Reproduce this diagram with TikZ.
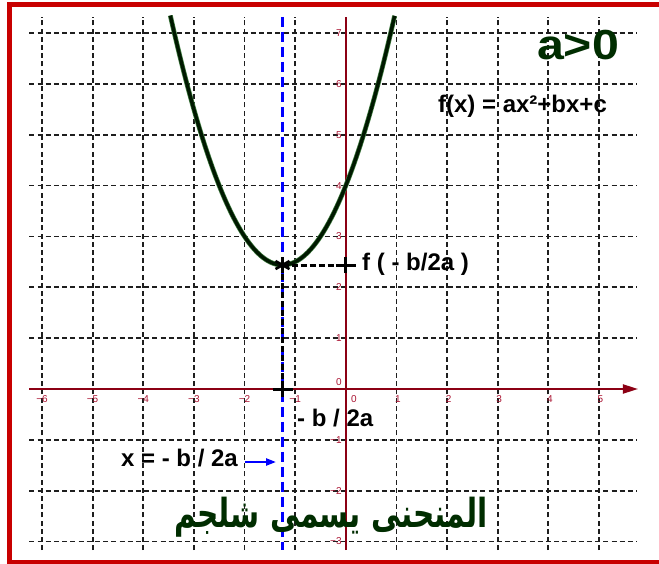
\documentclass[tikz,border=0pt]{standalone}
\usepackage{fontspec}
\setmainfont{Liberation Sans}
\newfontfamily\arabicfont[Script=Arabic]{DejaVu Sans}
\TeXXeTstate=1
\usetikzlibrary{arrows.meta}
\definecolor{axisred}{RGB}{140,0,20}
\definecolor{ticklab}{RGB}{170,20,50}
\definecolor{framered}{RGB}{200,0,0}
\definecolor{curvedark}{RGB}{0,25,0}
\definecolor{curvehalo}{RGB}{60,120,60}
\definecolor{titlegreen}{RGB}{0,45,0}
\definecolor{gridgray}{RGB}{30,30,30}
\tikzset{
  gridline/.style={draw=gridgray, line width=1.8pt, dash pattern=on 5pt off 3.2pt},
  axisline/.style={draw=axisred, line width=1.9pt},
  ticktext/.style={text=ticklab, font=\fontsize{10}{10}\selectfont, inner sep=0pt},
  bluedash/.style={draw=blue, line width=3.8pt, dash pattern=on 10pt off 5pt},
  blackdash/.style={draw=black, line width=3pt, dash pattern=on 6pt off 3pt},
  markstroke/.style={draw=black, line width=3pt},
  label24/.style={font=\fontsize{24}{24}\selectfont\bfseries, text=black, inner sep=0pt},
}
\begin{document}
\begin{tikzpicture}[x=1pt,y=-1pt]
\useasboundingbox (0,0) rectangle (659,564);
\fill[white] (0,0) rectangle (659,564);
\begin{scope}[shift={(345.8,389)},x=50.64pt,y=50.85pt]
  % grid
  \foreach \i in {-6,...,-1,1,2,...,5} \draw[gridline] (\i,-3.17) -- (\i,7.32);
  \foreach \j in {-3,-2,-1,1,2,...,7} \draw[gridline] (-6.25,\j) -- (5.74,\j);
  % axes
  \draw[axisline,-{Triangle[length=15pt,width=9pt]}] (-6.25,0) -- (5.77,0);
  \draw[axisline] (0,-3.17) -- (0,7.32);
  % tick labels
  \foreach \i/\t in {-6/−6,-5/−5,-4/−4,-3/−3,-2/−2,-1/−1}
    \node[ticktext, anchor=north] (tx\i) at ([yshift=-6pt]\i,0) {\t};
  \foreach \i in {1,...,5}
    \node[ticktext, anchor=north] (tx\i) at ([yshift=-6pt,xshift=1.5pt]\i,0) {\i};
  \node[ticktext, anchor=north] (tx0) at ([yshift=-6pt,xshift=8pt]0,0) {0};
  \foreach \j in {1,...,7}
    \node[ticktext, anchor=east] (ty\j) at ([xshift=-4pt]0,\j) {\j};
  \foreach \j/\t in {-1/−1,-2/−2,-3/−3}
    \node[ticktext, anchor=east] (ty\j) at ([xshift=-4pt]0,\j) {\t};
  \node[ticktext, anchor=east] (ty0) at ([xshift=-4pt,yshift=7pt]0,0) {0};
  % axis of symmetry
  \coordinate (btop) at (-1.25,7.32);
  \coordinate (bbot) at (-1.25,-3.17);
  \draw[bluedash] (btop) -- (bbot);
  % parabola
  \draw[curvehalo, line width=4.8pt] plot[domain=-3.465:0.965, samples=120] (\x,{\x*\x+2.5*\x+4});
  \draw[curvedark, line width=3.4pt] plot[domain=-3.465:0.965, samples=120] (\x,{\x*\x+2.5*\x+4});
  % vertex and projections
  \coordinate (V) at (-1.25,2.4375);
  \coordinate (Y) at (0,2.4375);
  \coordinate (X) at (-1.25,0);
  \draw[blackdash] (V) -- (Y);
  \draw[blackdash] (V) -- (X);
\end{scope}
% markers
\draw[markstroke] ([xshift=-10pt]Y) -- ([xshift=10pt]Y);
\draw[markstroke] ([yshift=-8pt]Y) -- ([yshift=8pt]Y);
\draw[markstroke] ([xshift=-10pt]X) -- ([xshift=10pt]X);
\draw[markstroke] ([yshift=-8pt]X) -- ([yshift=8pt]X);
\draw[markstroke, line width=2.6pt] ([yshift=-8pt]V) -- ([yshift=8pt]V);
\draw[markstroke, line width=2.6pt] ([shift={(-7pt,-4pt)}]V) -- ([shift={(7pt,4pt)}]V);
\draw[markstroke, line width=2.6pt] ([shift={(-7pt,4pt)}]V) -- ([shift={(7pt,-4pt)}]V);
% labels
\node[font=\fontsize{42}{42}\selectfont\bfseries, text=titlegreen, inner sep=0pt, xscale=1.15] (title) at (578,45) {a>0};
\node[label24] (formula) at (522.5,106) {f(x) = ax²+bx+c};
\node[label24, anchor=west] (fvert) at (362,264) {f ( - b/2a )};
\node[label24, anchor=west] (xvert) at (297,418) {- b / 2a};
\node[label24, anchor=east] (axlabel) at (238,458) {x = - b / 2a};
\coordinate (arrS) at (245,462);
\coordinate (arrE) at (276,462);
\draw[blue, line width=2.2pt, -{Triangle[length=10pt,width=7pt]}] (arrS) -- (arrE);
\node[inner sep=0pt, text=titlegreen, font=\fontsize{40}{40}\selectfont, xscale=0.74] (arab) at (331,517)
  {\arabicfont\bfseries\beginR المنحنى يسمى شلجم\endR};
% frame
\draw[framered, line width=5pt] (9.5,4.5) rectangle (664,562);
\end{tikzpicture}
\end{document}
